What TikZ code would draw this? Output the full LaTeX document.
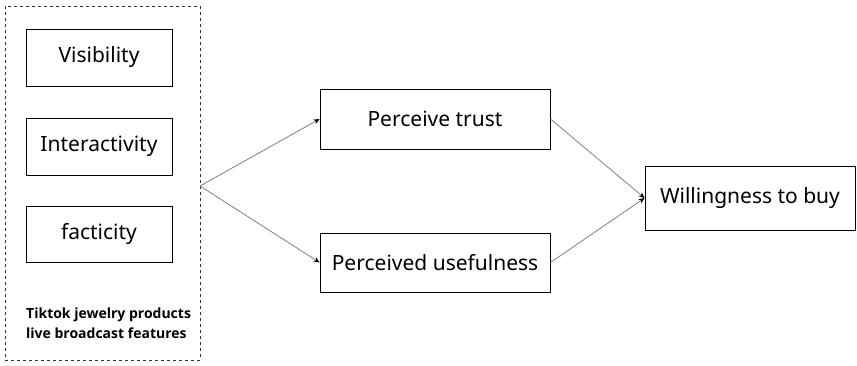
\documentclass[tikz,border=0pt]{standalone}
\usepackage{fontspec}
\setmainfont{Noto Sans}
\newfontfamily\labfont{Open Sans}
\usetikzlibrary{arrows.meta}
\begin{document}
\begin{tikzpicture}[x=1pt,y=-1pt,
  box/.style={draw=black,line width=0.9pt,inner sep=0pt,font=\fontsize{21}{24}\selectfont},
  conn/.style={draw=black!50,line width=0.8pt,-{Stealth[length=6pt,width=5pt,black]}}]
\useasboundingbox (0,0) rectangle (857,365);
\node[draw=black!80,dashed,line width=0.7pt,minimum width=195pt,minimum height=354pt,inner sep=0pt] (group) at (102.5,183) {};
\node[box,minimum width=146pt,minimum height=57pt] (vis) at (99,57.5) {Visibility};
\node[box,minimum width=146pt,minimum height=57pt] (inter) at (99,146.5) {Interactivity};
\node[box,minimum width=146pt,minimum height=56pt] (fact) at (99,234) {facticity};
\node[align=left,anchor=west,inner sep=0pt,font=\labfont\bfseries\fontsize{14}{20}\selectfont] (lab) at (26,323) {Tiktok jewelry products\\live broadcast features};
\node[box,minimum width=230pt,minimum height=60pt] (trust) at (435,119) {Perceive trust};
\node[box,minimum width=230pt,minimum height=59pt] (useful) at (435,262.5) {Perceived usefulness};
\node[box,minimum width=210pt,minimum height=64pt] (buy) at (750,198) {Willingness to buy};
\coordinate (fan) at (200,186);
\draw[conn] (fan) -- (trust.west);
\draw[conn] (fan) -- (useful.west);
\draw[conn] (trust.east) -- (buy.west);
\draw[conn] (useful.east) -- (buy.west);
\end{tikzpicture}
\end{document}
